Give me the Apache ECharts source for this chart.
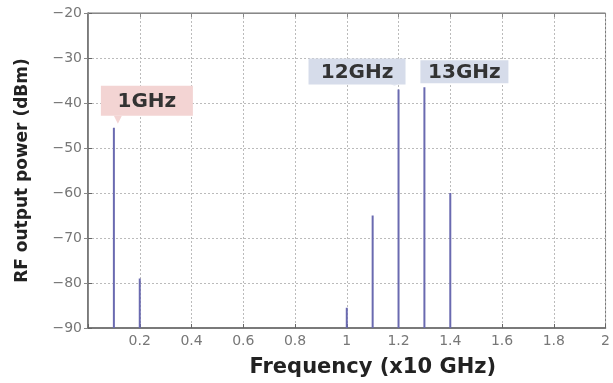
<!DOCTYPE html>
<html><head><meta charset="utf-8">
<script src="https://cdn.jsdelivr.net/npm/echarts@6/dist/echarts.min.js"></script>
<style>html,body{margin:0;padding:0;background:#fff}#c{width:613px;height:383px}</style>
</head><body><div id="c"></div>
<script>
const freqs = [0.1, 0.2, 1.0, 1.1, 1.2, 1.3, 1.4];
const power = [-45.5, -79, -85.5, -65, -37, -36.5, -60];
const xTicks = [0, 0.2, 0.4, 0.6, 0.8, 1, 1.2, 1.4, 1.6, 1.8, 2];
const yTicks = [-90, -80, -70, -60, -50, -40, -30, -20];
const annText = ['1GHz', '12GHz', '13GHz'];
const annIndex = [0, 4, 5];

const chart = echarts.init(document.getElementById('c'));
const spikeData = freqs.map((f, i) => [f, power[i]]);
const annData = annIndex.map((k, i) => [freqs[k], power[k], i]);
// box geometry relative to spike tip (layout only)
const boxGeom = [
  {l: -13, r: 79, t: -42, b: -12, tail: [0, 6], fill: '#f3d4d3'},
  {l: -90, r: 7, t: -31, b: -5, tail: [-8, -2], fill: '#d6dcea'},
  {l: -4, r: 84, t: -27, b: -4, tail: [9, 18], fill: '#d6dcea'}
];
const axisLabelStyle = {color: '#777', fontSize: 14, fontFamily: 'DejaVu Sans'};
chart.setOption({
  animation: false,
  grid: {left: 88, top: 13, right: 3, bottom: 55, show: true, borderColor: '#777', borderWidth: 1},
  xAxis: [{
    type: 'value', min: xTicks[0], max: xTicks[xTicks.length - 1], interval: 0.2,
    name: 'Frequency (x10 GHz)', nameLocation: 'middle', nameGap: 29,
    nameTextStyle: {fontSize: 21, fontWeight: 'bold', color: '#222', fontFamily: 'DejaVu Sans', padding: [0, 0, 0, 52]},
    axisLine: {show: true, lineStyle: {color: '#666', width: 1.5}},
    axisTick: {inside: true, length: 4, lineStyle: {color: '#666'}},
    axisLabel: Object.assign({margin: 6, formatter: v => v === 0 ? '' : String(Math.round(v * 10) / 10)}, axisLabelStyle),
    splitLine: {show: true, lineStyle: {color: '#bbb', type: [2, 2], width: 1}}
  }, {
    type: 'value', position: 'top', min: 0, max: 2, interval: 0.2,
    axisLine: {show: true, lineStyle: {color: '#888'}},
    axisTick: {inside: true, length: 4, lineStyle: {color: '#888'}},
    axisLabel: {show: false}, splitLine: {show: false}
  }],
  yAxis: [{
    type: 'value', min: yTicks[0], max: yTicks[yTicks.length - 1], interval: 10,
    name: 'RF output power (dBm)', nameLocation: 'middle', nameGap: 57,
    nameTextStyle: {fontSize: 17, fontWeight: 'bold', color: '#222', fontFamily: 'DejaVu Sans'},
    axisLine: {show: true, lineStyle: {color: '#666', width: 1.5}},
    axisTick: {inside: true, length: 4, lineStyle: {color: '#666'}},
    axisLabel: Object.assign({margin: 6, formatter: v => String(v).replace('-', '\u2212')}, axisLabelStyle),
    splitLine: {show: true, lineStyle: {color: '#bbb', type: [2, 2], width: 1}}
  }, {
    type: 'value', position: 'right', min: -90, max: -20, interval: 10,
    axisLine: {show: true, lineStyle: {color: '#888'}},
    axisTick: {inside: true, length: 4, lineStyle: {color: '#888'}},
    axisLabel: {show: false}, splitLine: {show: false}
  }],
  series: [{
    type: 'custom', data: spikeData,
    renderItem: (params, api) => {
      const top = api.coord([api.value(0), api.value(1)]);
      const bot = api.coord([api.value(0), yTicks[0]]);
      return {type: 'line', shape: {x1: top[0], y1: top[1], x2: bot[0], y2: bot[1]},
        style: {stroke: '#6a6ab0', lineWidth: 2}};
    }
  }, {
    type: 'custom', data: annData, z: 10,
    renderItem: (params, api) => {
      const p = api.coord([api.value(0), api.value(1)]);
      const g = boxGeom[api.value(2)];
      const x0 = p[0] + g.l, x1 = p[0] + g.r, y0 = p[1] + g.t, y1 = p[1] + g.b;
      return {type: 'group', children: [
        {type: 'rect', shape: {x: x0, y: y0, width: x1 - x0, height: y1 - y0}, style: {fill: g.fill}},
        {type: 'polygon', shape: {points: [[p[0] + g.tail[0], y1], [p[0] + g.tail[0] + 8, y1], [p[0] + g.tail[1] - 2, p[1] - 4]]}, style: {fill: g.fill}},
        {type: 'text', style: {text: annText[api.value(2)], x: (x0 + x1) / 2, y: (y0 + y1) / 2 + 1,
          align: 'center', verticalAlign: 'middle', fill: '#333', font: 'bold 20px "DejaVu Sans"'}}
      ]};
    }
  }]
});
</script></body></html>
